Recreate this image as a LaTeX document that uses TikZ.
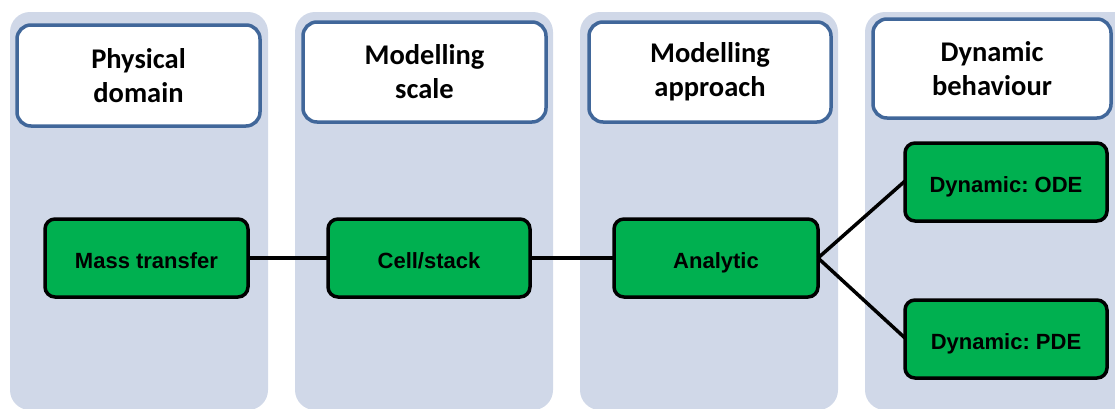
\documentclass[tikz,border=0pt]{standalone}
\usepackage{fontspec}
\setmainfont{Liberation Sans}
\newfontfamily\headfont{Carlito}
\definecolor{panelgray}{HTML}{D0D8E8}
\definecolor{headblue}{HTML}{41679A}
\definecolor{boxgreen}{HTML}{00B050}
\frenchspacing
\begin{document}
\begin{tikzpicture}[x=1pt,y=-1pt,
  panel/.style={fill=panelgray,draw=none,rounded corners=20pt},
  header/.style={draw=headblue,line width=3.5pt,fill=white,rounded corners=14pt,
    font=\headfont\bfseries\fontsize{28.5}{34}\selectfont,align=center},
  stage/.style={draw=black,line width=3.5pt,fill=boxgreen,rounded corners=10pt,
    font=\bfseries\fontsize{22}{26}\selectfont},
  stagetext/.style={text height=16pt,text depth=0pt,yshift=-2pt},
  link/.style={draw=black,line width=3.5pt}]
\useasboundingbox (0,0) rectangle (1115,408);
\begin{scope}
\clip (0,0) rectangle (1115,408);
% column panels
\path[panel] (10,12) rectangle (268,410);
\path[panel] (295,12) rectangle (553,410);
\path[panel] (580,12) rectangle (838,410);
\path[panel] (865,12) rectangle (1140,410);
\end{scope}
% column headers
\draw[header] (17,25) rectangle node (h1) {Physical\\domain} (260,126);
\draw[header] (303,22) rectangle node (h2) {Modelling\\scale} (546,122);
\draw[header] (589,22) rectangle node (h3) {Modelling\\approach} (831,122);
\draw[header] (873,19) rectangle node (h4) {Dynamic\\behaviour} (1111,118);
% stages
\draw[stage] (45,219) rectangle node[stagetext] (mt) {Mass transfer} (248,297);
\draw[stage] (328,219) rectangle node[stagetext] (cs) {Cell/stack} (530,297);
\draw[stage] (614,219) rectangle node[stagetext] (an) {Analytic} (818,297);
\draw[stage] (905,143) rectangle node[stagetext] (ode) {Dynamic: ODE} (1107,221);
\draw[stage] (905,300) rectangle node[stagetext] (pde) {Dynamic: PDE} (1107,378);
% anchors on the box edges for the connectors
\coordinate (mtE) at (248,258);
\coordinate (csW) at (328,258);
\coordinate (csE) at (530,258);
\coordinate (anW) at (614,258);
\coordinate (anE) at (818,258);
\coordinate (odeW) at (905,181);
\coordinate (pdeW) at (905,338);
\draw[link] (mtE) -- (csW);
\draw[link] (csE) -- (anW);
\draw[link] (anE) -- (odeW);
\draw[link] (anE) -- (pdeW);
\end{tikzpicture}
\end{document}
